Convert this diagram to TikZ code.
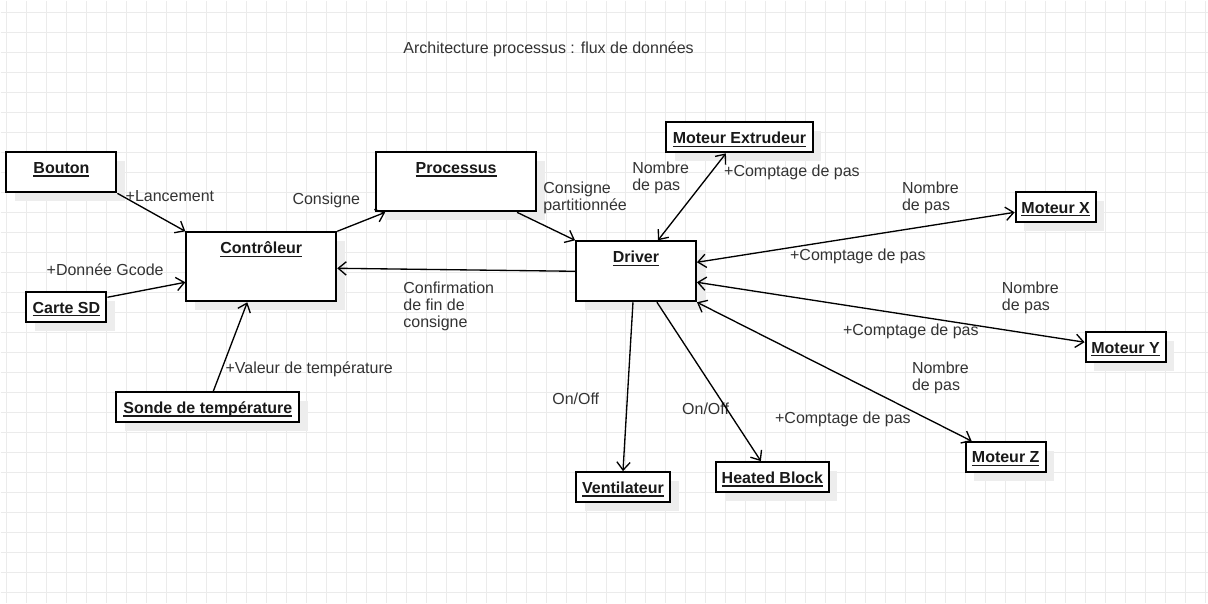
\documentclass[tikz,border=0pt]{standalone}
\usepackage{fontspec}
\setmainfont{Liberation Sans}
\usetikzlibrary{arrows.meta,calc,shadows}
\definecolor{txt}{HTML}{333333}
\definecolor{gridc}{HTML}{EBEBEB}
\newcommand{\ulbox}[1]{\setbox0=\hbox{#1}\rlap{\rule[-2.5pt]{\wd0}{0.9pt}}\box0}

\begin{document}
\begin{tikzpicture}
    \tikzset{x=0.75pt, y=-0.75pt, >={Straight Barb[length=6pt,width=10pt]}}
    \tikzstyle{box}=[rectangle, draw, line width=1.5pt, fill=white, inner sep=0pt, general shadow={fill=black!7, shadow xshift=6.5pt, shadow yshift=-6.5pt}]
    \tikzstyle{ttl}=[anchor=center, yshift=-13.5pt, inner sep=0pt, font=\bfseries\fontsize{12}{14}\selectfont, text=black!90]
    \tikzstyle{lbl}=[anchor=west, yshift=-1.5pt, inner sep=0pt, align=left, text=txt, font=\fontsize{12}{12.75}\selectfont]
    \tikzstyle{flow}=[line width=1pt]

    % fond quadrille
    \fill[white] (0,0) rectangle (1208,603);
    \foreach \gx in {6,26,...,1206} \draw[gridc, line width=0.75pt] (\gx,0) -- (\gx,603);
    \foreach \gy in {12,32,...,592} \draw[gridc, line width=0.75pt] (0,\gy) -- (1208,\gy);
    \useasboundingbox (0,0) rectangle (1208,603);

    \draw (403,47)      node[lbl]   (titre) {Architecture processus : flux de donn\'ees};

    % blocs
    \draw (61,172)      node[box, minimum width=82.5pt, minimum height=30pt, label={[ttl]north:\ulbox{Bouton}}]                   (bouton) {};
    \draw (261,266.5)   node[box, minimum width=112.5pt, minimum height=51.75pt, label={[ttl]north:\ulbox{Contr\^oleur}}]         (ctrl)   {};
    \draw (66,307)      node[box, minimum width=60pt, minimum height=22.5pt, label={[ttl]north:\ulbox{Carte SD}}]                 (sd)     {};
    \draw (207.5,407)   node[box, minimum width=137.25pt, minimum height=22.5pt, label={[ttl]north:\ulbox{Sonde de temp\'erature}}] (sonde) {};
    \draw (456,181.5)   node[box, minimum width=120pt, minimum height=44.25pt, label={[ttl]north:\ulbox{Processus}}]              (proc)   {};
    \draw (636,271)     node[box, minimum width=90pt, minimum height=45pt, label={[ttl]north:\ulbox{Driver}}]                     (drv)    {};
    \draw (739.5,137)   node[box, minimum width=110.25pt, minimum height=22.5pt, label={[ttl]north:\ulbox{Moteur Extrudeur}}]     (ext)    {};
    \draw (1056,207)    node[box, minimum width=60pt, minimum height=22.5pt, label={[ttl]north:\ulbox{Moteur X}}]                 (mx)     {};
    \draw (1126,347)    node[box, minimum width=60pt, minimum height=22.5pt, label={[ttl]north:\ulbox{Moteur Y}}]                 (my)     {};
    \draw (1006,457)    node[box, minimum width=60pt, minimum height=22.5pt, label={[ttl]north:\ulbox{Moteur Z}}]                 (mz)     {};
    \draw (623,487)     node[box, minimum width=70.5pt, minimum height=22.5pt, label={[ttl]north:\ulbox{Ventilateur}}]            (vent)   {};
    \draw (772.5,477)   node[box, minimum width=84.75pt, minimum height=22.5pt, label={[ttl]north:\ulbox{Heated Block}}]          (heat)   {};

    % textes des liens
    \draw (125,194)     node[lbl]   (lLanc)  {+Lancement};
    \draw (46,267)      node[lbl]   (lGcode) {+Donn\'ee Gcode};
    \draw (225,367)     node[lbl]   (lTemp)  {+Valeur de temp\'erature};
    \draw (292,198)     node[lbl]   (lCons)  {Consigne};
    \draw (543,195.5)   node[lbl]   (lPart)  {Consigne\\partitionn\'ee};
    \draw (403,304)     node[lbl]   (lConf)  {Confirmation\\de fin de\\consigne};
    \draw (632,175.5)   node[lbl]   (nbExt)  {Nombre\\de pas};
    \draw (724,170)     node[lbl]   (cpExt)  {+Comptage de pas};
    \draw (902,195.5)   node[lbl]   (nbX)    {Nombre\\de pas};
    \draw (790,254)     node[lbl]   (cpX)    {+Comptage de pas};
    \draw (1002,295.5)  node[lbl]   (nbY)    {Nombre\\de pas};
    \draw (843,329)     node[lbl]   (cpY)    {+Comptage de pas};
    \draw (912,375.5)   node[lbl]   (nbZ)    {Nombre\\de pas};
    \draw (775,417)     node[lbl]   (cpZ)    {+Comptage de pas};
    \draw (552,397)     node[lbl]   (lVent)  {On/Off};
    \draw (682,407)     node[lbl]   (lHeat)  {On/Off};

    % liens
    \draw [flow, ->]    (bouton.south east) -- (ctrl.north west);
    \draw [flow, ->]    ($(sd.east)+(0,-10)$) -- ($(ctrl.west)+(0,15.5)$);
    \draw [flow, ->]    ($(sonde.north)+(5.5,0)$) -- ($(ctrl.south)+(-14,0)$);
    \draw [flow, ->]    (ctrl.north east) -- ($(proc.south west)+(10,0)$);
    \draw [flow, ->]    ($(proc.south east)+(-20,0)$) -- (drv.north west);
    \draw [flow, ->]    (drv.west) -- ($(ctrl.east)+(0,1.5)$);
    \draw [flow, <->]   ($(drv.north)+(22,0)$) -- ($(ext.south)+(-13.5,0)$);
    \draw [flow, <->]   ($(drv.east)+(0,-9)$) -- ($(mx.west)+(0,5)$);
    \draw [flow, <->]   ($(drv.east)+(0,11)$) -- ($(my.west)+(0,-5)$);
    \draw [flow, <->]   (drv.south east) -- ($(mz.north west)+(7,0)$);
    \draw [flow, ->]    ($(drv.south)+(-3,0)$) -- (vent.north);
    \draw [flow, ->]    ($(drv.south)+(21,0)$) -- ($(heat.north)+(-11.5,0)$);
\end{tikzpicture}
\end{document}
